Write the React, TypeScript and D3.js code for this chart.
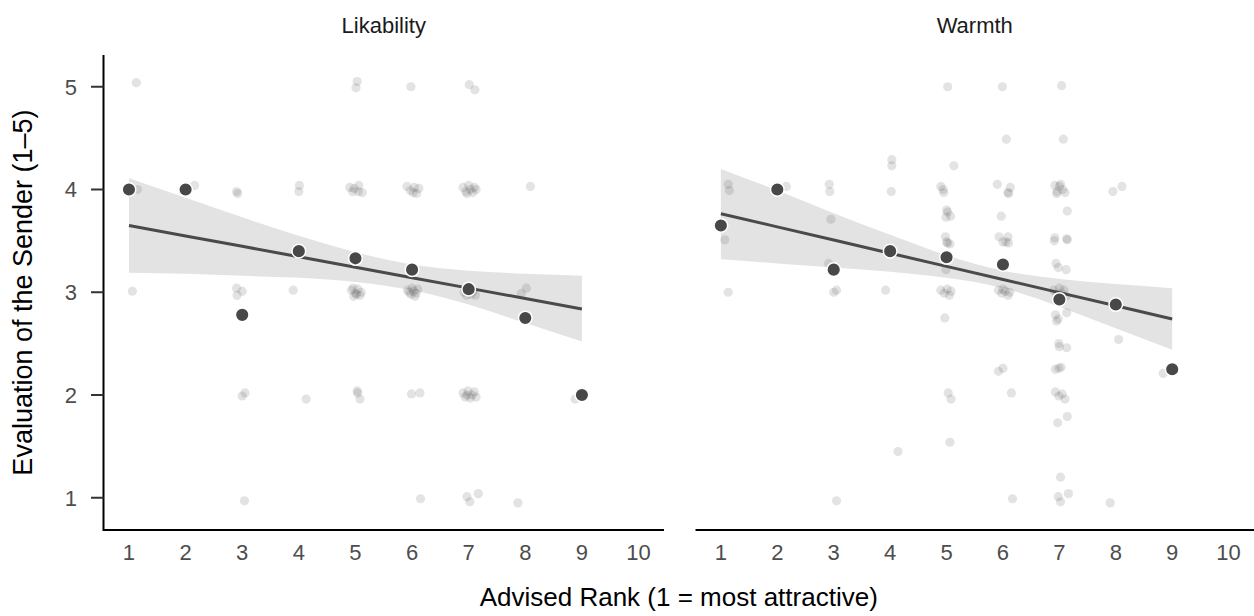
import React from "react";
import * as d3 from "d3";

// ---------- data ----------
const panels = ["Likability", "Warmth"];
const ranks = [1, 2, 3, 4, 5, 6, 7, 8, 9];
const xTicks = [1, 2, 3, 4, 5, 6, 7, 8, 9, 10];
const yTicks = [1, 2, 3, 4, 5];

const likMeans = [4.0, 4.0, 2.78, 3.4, 3.33, 3.22, 3.03, 2.75, 2.0];
const warmMeans = [3.65, 4.0, 3.22, 3.4, 3.34, 3.27, 2.93, 2.88, 2.25];

const likFit = [3.65, 3.548, 3.447, 3.345, 3.244, 3.142, 3.04, 2.939, 2.837];
const likLower = [3.19, 3.18, 3.16, 3.14, 3.1, 3.02, 2.88, 2.7, 2.52];
const likUpper = [4.11, 3.92, 3.73, 3.55, 3.39, 3.27, 3.21, 3.18, 3.16];

const warmFit = [3.764, 3.636, 3.508, 3.38, 3.252, 3.124, 2.996, 2.868, 2.74];
const warmLower = [3.32, 3.28, 3.24, 3.2, 3.14, 3.04, 2.86, 2.65, 2.44];
const warmUpper = [4.2, 3.99, 3.77, 3.56, 3.36, 3.21, 3.13, 3.08, 3.04];

// jittered raw responses [rank, rating]
const likRaw: [number, number][] = [
  [1.13, 5.04], [1.15, 4.0], [1.02, 3.99], [1.06, 3.01], [0.98, 4.01],
  [2.16, 4.04], [2.0, 3.98],
  [2.9, 3.98], [2.92, 3.96], [2.9, 3.04], [3.0, 3.01], [2.91, 2.97], [3.0, 1.99], [3.05, 2.02], [3.04, 0.97],
  [4.01, 4.04], [4.0, 3.98], [3.9, 3.02], [4.13, 1.96],
  [5.03, 5.05], [5.01, 4.99],
  [4.9, 4.02], [4.98, 4.01], [5.05, 3.98], [5.06, 4.04], [5.12, 3.97], [4.95, 3.98],
  [4.93, 3.02], [5.0, 2.99], [5.04, 3.03], [5.08, 2.97], [4.97, 2.96], [5.1, 3.0], [5.02, 2.98], [4.96, 3.04],
  [5.03, 2.04], [5.04, 2.02], [5.08, 1.96],
  [5.98, 5.0],
  [5.91, 4.03], [5.97, 3.99], [6.04, 4.02], [6.08, 3.96], [6.12, 4.01], [6.02, 3.97],
  [5.92, 3.02], [5.98, 2.98], [6.03, 3.01], [6.07, 2.99], [6.1, 3.03], [5.95, 3.0], [6.05, 2.96], [6.0, 3.04],
  [5.99, 2.01], [6.14, 2.02], [6.15, 0.99],
  [7.01, 5.02], [7.11, 4.97],
  [6.9, 4.02], [6.95, 3.98], [7.0, 4.04], [7.03, 4.0], [7.07, 3.97], [7.1, 4.02], [7.13, 4.0], [6.97, 3.96],
  [6.92, 3.0], [6.96, 2.97], [7.0, 3.03], [7.04, 2.98], [7.08, 3.01], [7.12, 2.97],
  [6.9, 2.02], [6.94, 1.98], [6.99, 2.04], [7.03, 1.97], [7.06, 2.0], [7.1, 2.03], [7.13, 1.98], [6.97, 2.0],
  [6.97, 1.01], [7.02, 0.96], [7.17, 1.04],
  [8.09, 4.03], [8.02, 3.04], [7.93, 2.99], [7.87, 0.95],
  [8.88, 1.96], [9.0, 2.0],
];

const warmRaw: [number, number][] = [
  [1.13, 4.05], [1.15, 3.99], [1.07, 3.51], [1.13, 3.0],
  [2.16, 4.03], [2.0, 3.99],
  [2.92, 4.05], [2.93, 3.98], [2.95, 3.71], [2.91, 3.28], [3.0, 3.0], [3.05, 3.02], [3.05, 0.97],
  [4.03, 4.29], [4.03, 4.23], [4.02, 3.98], [3.92, 3.02], [4.14, 1.45],
  [5.02, 5.0], [5.13, 4.23], [4.9, 4.03], [4.94, 4.0], [4.95, 3.97], [5.0, 3.8], [4.99, 3.73], [5.07, 3.74],
  [5.02, 3.78], [4.98, 3.54], [5.02, 3.48], [5.0, 3.49], [5.06, 3.47], [4.99, 3.22], [4.9, 3.02], [4.96, 2.99],
  [5.01, 3.03], [5.05, 2.97], [5.08, 3.01], [4.97, 2.75], [5.03, 2.02], [5.08, 1.96], [5.06, 1.54],
  [5.99, 5.0], [6.06, 4.49], [5.9, 4.05], [6.13, 4.02], [6.09, 3.97], [6.1, 3.96], [5.97, 3.74], [5.93, 3.54],
  [6.09, 3.54], [6.0, 3.49], [6.1, 3.48], [6.05, 3.49], [5.92, 3.02], [5.98, 2.99], [6.04, 3.01], [6.09, 2.97],
  [6.12, 3.0], [6.0, 3.03], [5.92, 2.23], [6.0, 2.26], [6.15, 2.02], [6.17, 0.99],
  [7.04, 5.01], [7.07, 4.49], [6.92, 4.04], [6.96, 3.98], [7.0, 4.03], [7.02, 4.05], [7.06, 4.0], [7.1, 3.97],
  [6.95, 3.96], [7.14, 3.79], [6.92, 3.53], [7.13, 3.52], [6.91, 3.5], [7.14, 3.51], [6.94, 3.28], [6.98, 3.24],
  [7.12, 3.22], [6.9, 3.02], [6.95, 2.98], [7.0, 3.04], [7.04, 2.99], [7.08, 3.02], [7.12, 2.96], [6.93, 2.78],
  [6.98, 2.74], [7.13, 2.8], [6.95, 2.72], [6.99, 2.5], [7.0, 2.47], [7.13, 2.46], [6.93, 2.25], [6.99, 2.26],
  [7.03, 2.27], [6.93, 2.03], [6.99, 1.99], [7.05, 2.01], [7.1, 1.96], [6.97, 1.73], [7.14, 1.79], [7.02, 1.2],
  [6.98, 1.01], [7.02, 0.96], [7.16, 1.04],
  [7.95, 3.98], [8.11, 4.03], [8.05, 2.54], [7.9, 0.95],
  [8.84, 2.21], [9.0, 2.26],
];

const panelData = [
  { name: panels[0], means: likMeans, fit: likFit, lower: likLower, upper: likUpper, raw: likRaw },
  { name: panels[1], means: warmMeans, fit: warmFit, lower: warmLower, upper: warmUpper, raw: warmRaw },
];

// ---------- layout ----------
const W = 1254;
const H = 616;
const top = 55;
const bottom = 530;
const panelX = [
  [103.5, 664],
  [695.5, 1254],
];
const FONT = "'Liberation Sans', Arial, Helvetica, sans-serif";

export default function App() {
  const y = d3.scaleLinear().domain([0.686, 5.309]).range([bottom, top]);

  return (
    <svg
      width={W}
      height={H}
      viewBox={`0 0 ${W} ${H}`}
      style={{ position: "absolute", left: 0, top: 0, background: "#fff" }}
      fontFamily={FONT}
    >
      <rect x={0} y={0} width={W} height={H} fill="#fff" />
      {panelData.map((p, pi) => {
        const [x0, x1] = panelX[pi];
        const x = d3.scaleLinear().domain([0.55, 10.45]).range([x0, x1]);
        const area = d3
          .area<number>()
          .x((d) => x(d))
          .y0((_, i) => y(p.lower[i]))
          .y1((_, i) => y(p.upper[i]))
          .curve(d3.curveNatural);
        const line = d3
          .line<number>()
          .x((d) => x(d))
          .y((_, i) => y(p.fit[i]));
        const cx = (x0 + x1) / 2;
        return (
          <g key={p.name}>
            <clipPath id={`clip${pi}`}>
              <rect x={x0} y={top} width={x1 - x0} height={bottom - top} />
            </clipPath>
            <g clipPath={`url(#clip${pi})`}>
              <path d={area(ranks) || ""} fill="#e3e3e3" />
              {p.raw.map((d, i) => (
                <circle key={i} cx={x(d[0])} cy={y(d[1])} r={4.6} fill="#444" fillOpacity={0.15} />
              ))}
              <path d={line(ranks) || ""} fill="none" stroke="#4a4a4a" strokeWidth={3} />
              {p.means.map((m, i) => (
                <circle
                  key={i}
                  cx={x(ranks[i])}
                  cy={y(m)}
                  r={6.8}
                  fill="#484848"
                  stroke="#fff"
                  strokeWidth={1.5}
                />
              ))}
            </g>
            {/* x axis */}
            <line x1={x0} x2={x1} y1={bottom} y2={bottom} stroke="#000" strokeWidth={2} />
            {xTicks.map((t) => (
              <text
                key={t}
                x={x(t)}
                y={560}
                textAnchor="middle"
                fontSize={22}
                fill="#4d4d4d"
              >
                {t}
              </text>
            ))}
            {/* facet label */}
            <text x={cx} y={33} textAnchor="middle" fontSize={22} fill="#1a1a1a">
              {p.name}
            </text>
          </g>
        );
      })}
      {/* y axis (left panel only) */}
      <line x1={103.5} x2={103.5} y1={top} y2={bottom + 1} stroke="#000" strokeWidth={2} />
      {yTicks.map((t) => (
        <g key={t}>
          <line x1={91} x2={103.5} y1={y(t)} y2={y(t)} stroke="#333" strokeWidth={2} />
          <text x={77} y={y(t) + 8} textAnchor="end" fontSize={22} fill="#4d4d4d">
            {t}
          </text>
        </g>
      ))}
      <text
        transform={`translate(32, ${(top + bottom) / 2}) rotate(-90)`}
        textAnchor="middle"
        fontSize={27}
        fill="#000"
      >
        Evaluation of the Sender (1–5)
      </text>
      <text x={(103.5 + 1254) / 2} y={606} textAnchor="middle" fontSize={26} fill="#000">
        Advised Rank (1 = most attractive)
      </text>
    </svg>
  );
}
